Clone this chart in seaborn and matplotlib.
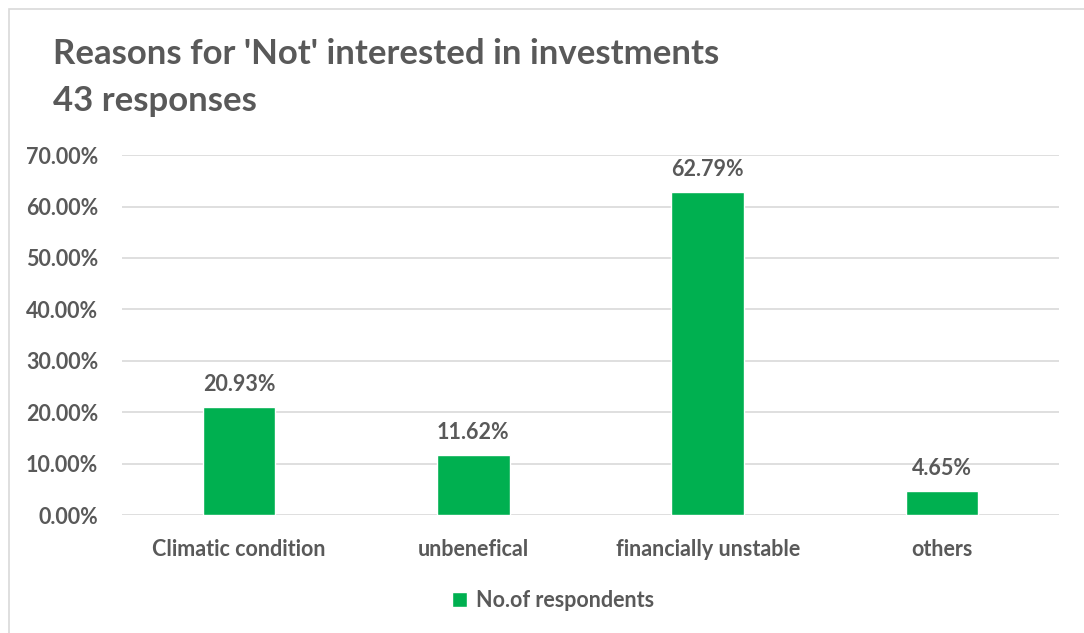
import matplotlib
matplotlib.use("Agg")
import matplotlib.pyplot as plt
from matplotlib.patches import Rectangle
from matplotlib.ticker import FuncFormatter
import seaborn as sns
import pandas as pd

categories = ["Climatic condition", "unbenefical", "financially unstable", "others"]
shares = [20.93, 11.62, 62.79, 4.65]
series_name = "No.of respondents"
title_lines = ["Reasons for 'Not' interested in investments", "43 responses"]

sns.set_theme(style="white")
plt.rcParams["font.family"] = ["Lato", "DejaVu Sans"]

TEXT = "#595959"
GREEN = "#00B050"
GRID = "#D9D9D9"
FS = 15.5

df = pd.DataFrame({"category": categories, "share": [v / 100 for v in shares],
                   "series": series_name})

fig = plt.figure(figsize=(10.84, 6.33), dpi=100)
ax = fig.add_axes([0.1125, 0.1864, 0.8645, 0.5686])

sns.barplot(data=df, x="category", y="share", hue="series", palette=[GREEN],
            saturation=1, width=0.31, ax=ax, legend=True)

ax.set_ylim(0, 0.70)
ax.set_xlim(-0.5, len(categories) - 0.5)
ax.set_yticks([i / 10 for i in range(8)])
ax.yaxis.set_major_formatter(FuncFormatter(lambda v, _: f"{v * 100:.2f}%"))
ax.grid(axis="y", color=GRID, linewidth=1.2)
ax.set_axisbelow(True)
for s in ax.spines.values():
    s.set_visible(False)
ax.set_xlabel("")
ax.set_ylabel("")
ax.tick_params(axis="both", length=0, labelsize=FS, labelcolor=TEXT)
ax.tick_params(axis="y", pad=17)
ax.tick_params(axis="x", pad=17)
for lbl in ax.get_xticklabels() + ax.get_yticklabels():
    lbl.set_fontweight("bold")

for container in ax.containers:
    ax.bar_label(container, labels=[f"{v:.2f}%" for v in shares], padding=9,
                 fontsize=FS, fontweight="bold", color=TEXT)

leg = ax.legend(loc="center", frameon=False, fontsize=FS, handlelength=0.7,
                handleheight=0.7, handletextpad=0.4)
leg.set_bbox_to_anchor((0.51, 0.052), transform=fig.transFigure)
for t in leg.get_texts():
    t.set_color(TEXT)
    t.set_fontweight("bold")

fig.text(0.049, 0.915, title_lines[0], fontsize=25, fontweight="bold", color=TEXT,
         ha="left", va="center")
fig.text(0.049, 0.840, title_lines[1], fontsize=25, fontweight="bold", color=TEXT,
         ha="left", va="center")

fig.patches.append(Rectangle((9 / 1084, -0.05), 1.2, 1 - 9 / 633 + 0.05,
                             transform=fig.transFigure, fill=False,
                             edgecolor=GRID, linewidth=1.2))

fig.savefig("out.png", dpi=100)
